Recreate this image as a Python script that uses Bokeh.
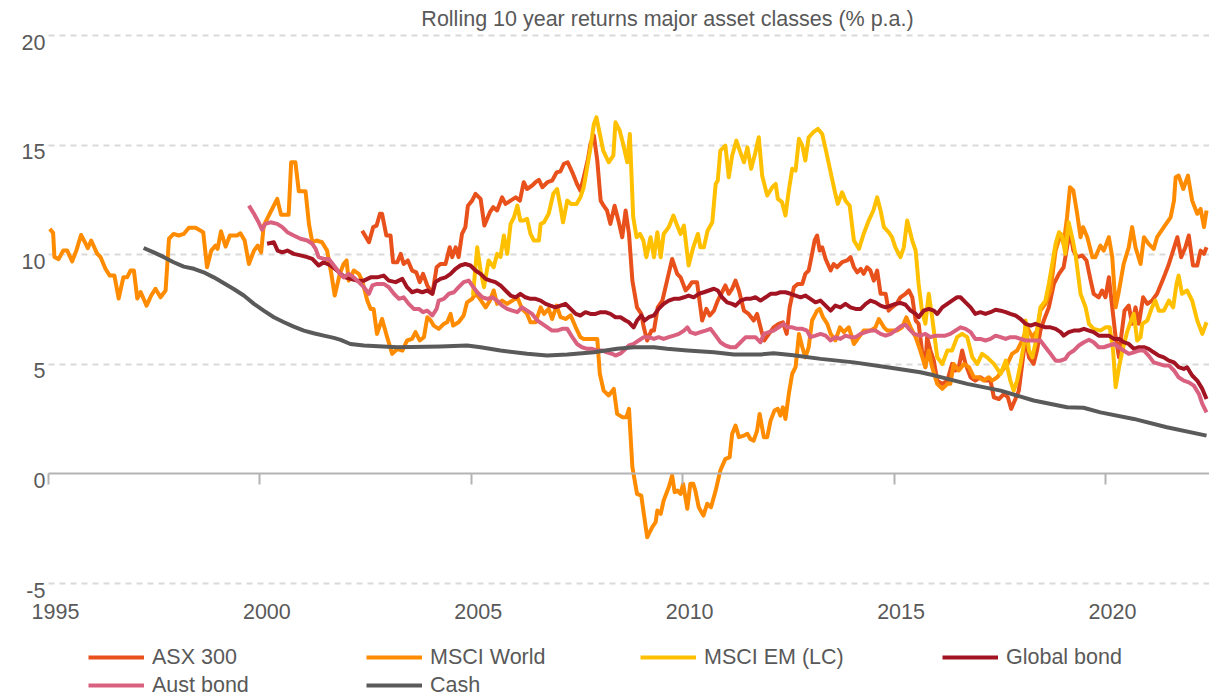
from bokeh.plotting import figure
from bokeh.models import (Range1d, FixedTicker, CustomJSTickFormatter, LinearAxis,
                          Legend, LegendItem, Label)
from bokeh.embed import file_html
from bokeh.resources import INLINE

FONT = "Liberation Sans"
TEXT_COLOR = "#595959"
FONT_SIZE = "21.5px"

title_text = "Rolling 10 year returns major asset classes  (% p.a.)"
x_tick_years = [1995, 2000, 2005, 2010, 2015, 2020]
y_tick_values = [-5, 0, 5, 10, 15, 20]
grid_values = [-5, 5, 10, 15, 20]

series_names = ["ASX 300", "MSCI World", "MSCI EM (LC)", "Global bond", "Aust bond", "Cash"]
series_colors = ["#E8501C", "#FF8C00", "#FFC000", "#A31422", "#D9607F", "#5A5A5A"]

asx_years = [
    2002.42, 2002.58, 2002.68, 2002.76, 2002.84, 2002.89, 2002.99, 2003.09, 2003.15, 2003.25,
    2003.33, 2003.40, 2003.50, 2003.60, 2003.70, 2003.78, 2003.86, 2003.96, 2004.08, 2004.18,
    2004.27, 2004.39, 2004.49, 2004.55, 2004.63, 2004.70, 2004.78, 2004.86, 2004.92, 2005.02,
    2005.10, 2005.22, 2005.31, 2005.44, 2005.52, 2005.61, 2005.73, 2005.81, 2005.93, 2006.05,
    2006.15, 2006.24, 2006.32, 2006.44, 2006.52, 2006.60, 2006.68, 2006.80, 2006.91, 2007.02,
    2007.11, 2007.19, 2007.28, 2007.39, 2007.50, 2007.58, 2007.66, 2007.76, 2007.82, 2007.90,
    2007.98, 2008.06, 2008.13, 2008.21, 2008.29, 2008.39, 2008.49, 2008.57, 2008.65, 2008.73,
    2008.81, 2008.92, 2009.02, 2009.08, 2009.16, 2009.26, 2009.32, 2009.41, 2009.52, 2009.63,
    2009.75, 2009.87, 2009.95, 2010.07, 2010.14, 2010.22, 2010.34, 2010.46, 2010.56, 2010.64,
    2010.74, 2010.83, 2010.93, 2011.01, 2011.09, 2011.17, 2011.25, 2011.33, 2011.45, 2011.56,
    2011.68, 2011.76, 2011.86, 2011.93, 2012.04, 2012.15, 2012.27, 2012.37, 2012.46, 2012.53,
    2012.63, 2012.72, 2012.83, 2012.90, 2012.98, 2013.06, 2013.12, 2013.18, 2013.24, 2013.30,
    2013.38, 2013.50, 2013.57, 2013.65, 2013.77, 2013.89, 2013.97, 2014.05, 2014.13, 2014.21,
    2014.28, 2014.36, 2014.44, 2014.52, 2014.60, 2014.68, 2014.80, 2014.87, 2014.95, 2015.06,
    2015.15, 2015.27, 2015.35, 2015.43, 2015.51, 2015.58, 2015.66, 2015.74, 2015.78, 2015.86,
    2015.94, 2016.02, 2016.14, 2016.26, 2016.37, 2016.45, 2016.53, 2016.61, 2016.69, 2016.81,
    2016.92, 2017.04, 2017.16, 2017.28, 2017.36, 2017.48, 2017.60, 2017.69, 2017.77, 2017.87,
    2017.95, 2018.03, 2018.11, 2018.19, 2018.30, 2018.38, 2018.46, 2018.54, 2018.66, 2018.78,
    2018.90, 2019.01, 2019.09, 2019.16, 2019.24, 2019.33, 2019.45, 2019.55, 2019.65, 2019.72,
    2019.84, 2019.92, 2020.00, 2020.08, 2020.16, 2020.24, 2020.32, 2020.37, 2020.45, 2020.55,
    2020.63, 2020.71, 2020.79, 2020.89, 2020.99, 2021.10, 2021.22, 2021.38, 2021.50, 2021.60,
    2021.70, 2021.79, 2021.89, 2021.97, 2022.07, 2022.17, 2022.25, 2022.33, 2022.39,
]
asx_values = [
    11.10, 10.57, 11.26, 11.33, 11.87, 11.87, 10.88, 10.88, 9.66, 9.66,
    10.04, 9.58, 9.74, 9.28, 9.20, 8.75, 9.13, 8.60, 8.22, 9.43,
    9.58, 9.58, 10.34, 9.89, 10.34, 9.89, 10.95, 11.26, 12.24, 12.47,
    12.78, 12.55, 11.33, 11.94, 12.17, 12.02, 12.62, 12.32, 12.47, 12.62,
    12.47, 13.31, 13.00, 13.16, 13.31, 13.42, 13.08, 13.31, 13.38, 13.76,
    13.81, 14.15, 14.22, 13.76, 13.23, 12.93, 13.54, 14.37, 15.06, 15.44,
    14.30, 12.47, 12.24, 12.02, 11.41, 12.24, 11.48, 10.80, 12.02, 10.95,
    8.82, 7.60, 7.30, 6.69, 6.09, 6.54, 6.54, 7.60, 7.91, 8.82,
    9.81, 9.13, 8.97, 8.37, 8.52, 8.75, 8.75, 7.00, 7.53, 7.23,
    7.45, 7.91, 8.29, 8.60, 8.22, 8.45, 8.82, 8.37, 7.45, 7.30,
    7.00, 7.30, 6.54, 6.09, 6.39, 6.69, 6.85, 6.92, 6.39, 7.60,
    8.52, 8.67, 8.67, 9.13, 9.28, 10.04, 10.65, 10.88, 10.19, 10.34,
    9.81, 9.28, 9.58, 9.43, 9.66, 9.74, 9.89, 9.43, 9.20, 9.36,
    9.13, 9.43, 9.28, 8.82, 9.28, 8.22, 8.22, 7.45, 7.60, 7.76,
    8.06, 8.22, 8.37, 8.06, 7.00, 6.85, 5.63, 4.87, 6.24, 5.63,
    5.17, 4.26, 4.11, 4.26, 5.02, 4.72, 4.87, 5.63, 5.02, 4.41,
    4.26, 4.41, 4.26, 4.26, 3.50, 3.42, 3.65, 3.50, 2.97, 3.42,
    3.80, 5.02, 6.24, 5.32, 5.02, 5.63, 6.54, 7.00, 7.60, 8.67,
    9.13, 9.43, 10.34, 11.10, 10.19, 9.89, 9.97, 9.74, 8.82, 8.22,
    8.06, 8.37, 8.06, 8.97, 7.60, 6.24, 5.32, 6.24, 7.45, 7.68,
    6.85, 7.60, 6.85, 8.06, 7.76, 7.91, 8.22, 8.97, 9.58, 10.19,
    10.80, 9.89, 10.34, 10.88, 9.51, 9.51, 10.19, 10.04, 10.34,
]

world_years = [
    1995.03, 1995.11, 1995.14, 1995.24, 1995.35, 1995.44, 1995.56, 1995.66, 1995.77, 1995.88,
    1995.93, 1996.01, 1996.15, 1996.23, 1996.35, 1996.45, 1996.56, 1996.66, 1996.77, 1996.86,
    1996.94, 1997.02, 1997.10, 1997.18, 1997.32, 1997.43, 1997.53, 1997.65, 1997.77, 1997.85,
    1997.96, 1998.08, 1998.20, 1998.32, 1998.48, 1998.66, 1998.75, 1998.85, 1998.95, 1999.00,
    1999.08, 1999.19, 1999.29, 1999.46, 1999.54, 1999.64, 1999.74, 1999.86, 1999.95, 2000.03,
    2000.09, 2000.25, 2000.41, 2000.50, 2000.68, 2000.74, 2000.84, 2000.92, 2001.08, 2001.16,
    2001.24, 2001.34, 2001.47, 2001.59, 2001.69, 2001.77, 2001.89, 2001.98, 2002.05, 2002.10,
    2002.22, 2002.34, 2002.42, 2002.54, 2002.62, 2002.69, 2002.77, 2002.89, 2003.01, 2003.13,
    2003.25, 2003.37, 2003.48, 2003.60, 2003.68, 2003.78, 2003.88, 2003.96, 2004.04, 2004.11,
    2004.23, 2004.35, 2004.43, 2004.51, 2004.57, 2004.70, 2004.82, 2004.90, 2005.02, 2005.10,
    2005.18, 2005.26, 2005.34, 2005.44, 2005.53, 2005.61, 2005.73, 2005.85, 2005.97, 2006.09,
    2006.20, 2006.32, 2006.40, 2006.52, 2006.64, 2006.72, 2006.83, 2006.91, 2007.02, 2007.11,
    2007.23, 2007.35, 2007.47, 2007.58, 2007.66, 2007.98, 2008.04, 2008.13, 2008.25, 2008.37,
    2008.45, 2008.57, 2008.67, 2008.73, 2008.81, 2008.92, 2009.02, 2009.16, 2009.28, 2009.36,
    2009.40, 2009.48, 2009.55, 2009.67, 2009.75, 2009.81, 2009.88, 2009.95, 2010.01, 2010.11,
    2010.18, 2010.25, 2010.30, 2010.38, 2010.49, 2010.58, 2010.67, 2010.78, 2010.89, 2011.01,
    2011.11, 2011.17, 2011.25, 2011.33, 2011.45, 2011.53, 2011.60, 2011.68, 2011.76, 2011.82,
    2011.92, 2012.00, 2012.08, 2012.17, 2012.25, 2012.31, 2012.37, 2012.43, 2012.51, 2012.59,
    2012.67, 2012.75, 2012.83, 2012.90, 2012.98, 2013.06, 2013.18, 2013.24, 2013.32, 2013.42,
    2013.50, 2013.61, 2013.72, 2013.81, 2013.93, 2014.05, 2014.17, 2014.28, 2014.44, 2014.56,
    2014.64, 2014.76, 2014.84, 2015.07, 2015.19, 2015.29, 2015.39, 2015.51, 2015.62, 2015.74,
    2015.82, 2015.90, 2016.02, 2016.14, 2016.26, 2016.33, 2016.41, 2016.53, 2016.65, 2016.77,
    2016.89, 2017.00, 2017.12, 2017.24, 2017.32, 2017.44, 2017.56, 2017.68, 2017.79, 2017.91,
    2018.03, 2018.15, 2018.27, 2018.38, 2018.46, 2018.58, 2018.70, 2018.82, 2018.94, 2019.01,
    2019.09, 2019.16, 2019.24, 2019.33, 2019.41, 2019.47, 2019.57, 2019.69, 2019.76, 2019.88,
    2019.96, 2020.08, 2020.16, 2020.24, 2020.32, 2020.43, 2020.55, 2020.63, 2020.71, 2020.83,
    2020.91, 2021.02, 2021.14, 2021.22, 2021.38, 2021.54, 2021.62, 2021.66, 2021.73, 2021.84,
    2021.95, 2022.05, 2022.17, 2022.25, 2022.33, 2022.39,
]
world_values = [
    11.18, 11.00, 9.90, 9.80, 10.20, 10.20, 9.70, 10.20, 10.90, 10.50,
    10.30, 10.65, 10.05, 9.90, 9.35, 9.05, 9.05, 8.00, 8.97, 8.97,
    9.28, 9.28, 8.00, 8.30, 7.68, 8.14, 8.45, 8.06, 8.37, 10.73,
    10.95, 10.88, 10.95, 11.23, 11.23, 11.03, 9.43, 10.19, 10.42, 10.27,
    11.07, 10.37, 10.88, 10.88, 10.98, 10.65, 9.58, 10.19, 10.42, 10.11,
    11.33, 11.94, 12.55, 11.83, 11.83, 14.22, 14.22, 12.90, 12.90, 11.41,
    10.57, 10.65, 10.57, 10.19, 9.13, 8.14, 9.13, 9.58, 9.74, 8.82,
    9.28, 9.13, 8.82, 7.91, 7.53, 7.53, 6.39, 7.07, 6.24, 5.48,
    5.71, 5.63, 6.09, 6.16, 6.47, 6.09, 6.24, 7.15, 7.00, 6.77,
    6.62, 6.85, 6.92, 7.30, 6.77, 6.92, 7.23, 7.83, 7.99, 8.22,
    8.06, 7.83, 7.60, 7.91, 8.37, 7.76, 7.91, 7.76, 7.91, 8.06,
    7.53, 7.30, 6.92, 6.92, 7.60, 7.30, 7.53, 7.07, 7.68, 7.15,
    7.07, 7.23, 6.69, 6.24, 6.16, 6.16, 4.57, 3.80, 3.58, 3.88,
    2.74, 2.59, 2.59, 2.97, 0.31, -0.91, -0.99, -2.89, -2.43, -2.20,
    -1.67, -1.82, -1.21, -0.61, -0.07, -0.83, -0.76, -0.91, -0.45, -1.59,
    -0.45, -0.45, -0.76, -1.52, -1.90, -1.36, -1.52, -0.76, 0.16, 0.69,
    0.76, 1.83, 2.21, 1.68, 1.75, 1.83, 1.60, 1.52, 1.98, 2.74,
    1.68, 1.68, 2.44, 2.89, 2.97, 2.66, 3.04, 2.51, 3.65, 4.57,
    4.87, 6.39, 5.78, 5.32, 5.78, 7.00, 7.45, 7.53, 7.15, 6.85,
    6.39, 6.09, 6.69, 6.47, 6.69, 5.93, 6.24, 6.54, 6.54, 6.69,
    7.07, 6.69, 6.54, 6.54, 6.69, 7.15, 6.69, 6.24, 5.63, 4.87,
    5.63, 4.87, 4.11, 3.88, 4.11, 4.11, 5.02, 4.72, 5.02, 4.87,
    4.41, 4.41, 4.26, 4.41, 4.26, 4.41, 4.72, 5.02, 5.48, 5.63,
    6.09, 6.69, 6.24, 6.54, 7.45, 7.76, 8.37, 10.19, 10.95, 10.50,
    11.71, 13.08, 12.93, 11.87, 10.80, 11.26, 10.80, 9.89, 9.89, 10.42,
    10.19, 10.80, 9.89, 7.60, 8.37, 9.58, 10.34, 11.26, 10.34, 9.58,
    10.80, 10.50, 10.27, 10.80, 11.26, 11.71, 12.47, 13.54, 13.61, 13.00,
    13.61, 12.47, 11.87, 12.09, 11.26, 12.02,
]

em_years = [
    2005.04, 2005.14, 2005.22, 2005.30, 2005.41, 2005.53, 2005.61, 2005.69, 2005.77, 2005.85,
    2005.93, 2006.01, 2006.09, 2006.16, 2006.24, 2006.32, 2006.40, 2006.48, 2006.60, 2006.64,
    2006.72, 2006.83, 2006.94, 2007.03, 2007.11, 2007.17, 2007.27, 2007.36, 2007.49, 2007.58,
    2007.66, 2007.74, 2007.82, 2007.90, 2007.96, 2008.04, 2008.12, 2008.25, 2008.36, 2008.41,
    2008.51, 2008.59, 2008.69, 2008.75, 2008.83, 2008.91, 2008.99, 2009.07, 2009.14, 2009.24,
    2009.32, 2009.40, 2009.48, 2009.55, 2009.67, 2009.78, 2009.87, 2009.95, 2010.03, 2010.14,
    2010.25, 2010.36, 2010.42, 2010.50, 2010.59, 2010.70, 2010.78, 2010.83, 2010.89, 2011.01,
    2011.09, 2011.17, 2011.27, 2011.35, 2011.45, 2011.53, 2011.62, 2011.72, 2011.80, 2011.88,
    2012.00, 2012.12, 2012.20, 2012.25, 2012.35, 2012.43, 2012.51, 2012.59, 2012.67, 2012.75,
    2012.83, 2012.90, 2012.98, 2013.09, 2013.20, 2013.30, 2013.38, 2013.50, 2013.61, 2013.67,
    2013.77, 2013.85, 2013.95, 2014.05, 2014.17, 2014.28, 2014.40, 2014.51, 2014.60, 2014.68,
    2014.76, 2014.87, 2014.95, 2015.03, 2015.15, 2015.23, 2015.31, 2015.43, 2015.51, 2015.58,
    2015.66, 2015.74, 2015.82, 2015.90, 2016.02, 2016.14, 2016.26, 2016.37, 2016.49, 2016.61,
    2016.73, 2016.85, 2016.97, 2017.08, 2017.20, 2017.36, 2017.52, 2017.64, 2017.75, 2017.83,
    2017.91, 2017.99, 2018.07, 2018.11, 2018.19, 2018.27, 2018.34, 2018.46, 2018.58, 2018.66,
    2018.74, 2018.82, 2018.90, 2018.98, 2019.05, 2019.13, 2019.21, 2019.29, 2019.41, 2019.53,
    2019.61, 2019.72, 2019.88, 2020.00, 2020.10, 2020.18, 2020.24, 2020.32, 2020.40, 2020.51,
    2020.59, 2020.67, 2020.75, 2020.83, 2020.87, 2020.99, 2021.10, 2021.18, 2021.26, 2021.38,
    2021.50, 2021.60, 2021.68, 2021.73, 2021.81, 2021.93, 2022.05, 2022.17, 2022.29, 2022.39,
]
em_values = [
    8.14, 10.34, 9.28, 8.52, 9.74, 9.43, 10.04, 9.89, 10.88, 10.04,
    11.41, 11.71, 12.24, 11.56, 11.56, 11.64, 10.95, 10.65, 10.65, 11.41,
    11.48, 11.87, 12.78, 13.00, 12.17, 11.48, 12.47, 12.32, 12.32, 12.62,
    13.08, 13.99, 14.90, 15.97, 16.27, 15.51, 14.75, 14.22, 14.52, 16.04,
    15.67, 15.06, 14.22, 15.51, 11.71, 10.80, 10.95, 10.65, 9.89, 10.80,
    9.89, 11.03, 9.89, 10.95, 11.26, 11.79, 11.33, 10.95, 11.33, 9.51,
    10.34, 10.95, 10.34, 10.34, 11.10, 11.48, 13.23, 13.38, 14.75, 14.98,
    13.54, 14.52, 15.21, 14.75, 14.22, 14.90, 13.92, 14.67, 15.36, 13.61,
    12.70, 13.08, 13.23, 12.55, 12.40, 11.79, 12.93, 13.92, 13.84, 15.29,
    14.98, 14.30, 15.36, 15.59, 15.74, 15.51, 14.83, 13.76, 12.78, 12.32,
    12.85, 12.47, 12.24, 10.65, 10.27, 10.95, 11.56, 12.02, 12.62, 12.02,
    11.26, 11.03, 10.80, 10.34, 9.89, 10.34, 11.56, 10.65, 10.19, 8.67,
    7.45, 6.85, 8.22, 7.15, 5.32, 5.02, 5.63, 5.63, 6.24, 6.39,
    6.24, 5.32, 5.02, 5.48, 5.32, 5.02, 4.57, 5.17, 4.26, 3.80,
    4.26, 5.02, 5.93, 7.00, 5.63, 5.32, 5.93, 7.60, 7.91, 8.67,
    9.58, 10.50, 11.03, 10.80, 10.04, 11.48, 10.80, 10.04, 8.22, 7.60,
    6.85, 6.62, 6.54, 6.69, 6.69, 5.63, 3.96, 4.87, 5.63, 6.47,
    6.92, 7.30, 6.09, 6.24, 6.85, 7.00, 7.60, 7.91, 7.45, 7.45,
    7.91, 7.60, 8.67, 9.05, 8.22, 8.37, 7.91, 7.00, 6.39, 6.92,
]

gbond_years = [
    2000.17, 2000.33, 2000.42, 2000.53, 2000.65, 2000.80, 2000.96, 2001.12, 2001.24, 2001.39,
    2001.51, 2001.67, 2001.83, 2001.91, 2002.02, 2002.14, 2002.30, 2002.46, 2002.62, 2002.77,
    2002.93, 2003.05, 2003.21, 2003.37, 2003.48, 2003.60, 2003.72, 2003.84, 2003.96, 2004.08,
    2004.15, 2004.27, 2004.39, 2004.51, 2004.63, 2004.74, 2004.86, 2004.98, 2005.10, 2005.22,
    2005.34, 2005.45, 2005.57, 2005.69, 2005.81, 2005.93, 2006.05, 2006.16, 2006.28, 2006.40,
    2006.52, 2006.64, 2006.76, 2006.87, 2006.99, 2007.11, 2007.23, 2007.35, 2007.47, 2007.58,
    2007.70, 2007.82, 2007.94, 2008.06, 2008.17, 2008.29, 2008.41, 2008.53, 2008.65, 2008.73,
    2008.84, 2008.92, 2009.02, 2009.10, 2009.20, 2009.32, 2009.43, 2009.55, 2009.67, 2009.79,
    2009.91, 2010.03, 2010.14, 2010.26, 2010.38, 2010.50, 2010.62, 2010.74, 2010.83, 2010.93,
    2011.05, 2011.17, 2011.25, 2011.37, 2011.49, 2011.60, 2011.72, 2011.84, 2011.96, 2012.08,
    2012.20, 2012.31, 2012.43, 2012.55, 2012.67, 2012.79, 2012.90, 2013.02, 2013.14, 2013.26,
    2013.38, 2013.50, 2013.61, 2013.73, 2013.85, 2013.97, 2014.09, 2014.21, 2014.33, 2014.44,
    2014.56, 2014.68, 2014.80, 2014.92, 2015.03, 2015.15, 2015.27, 2015.39, 2015.51, 2015.58,
    2015.70, 2015.82, 2015.94, 2016.02, 2016.14, 2016.26, 2016.37, 2016.49, 2016.57, 2016.69,
    2016.81, 2016.92, 2017.04, 2017.16, 2017.28, 2017.40, 2017.52, 2017.64, 2017.75, 2017.87,
    2017.99, 2018.11, 2018.23, 2018.34, 2018.46, 2018.58, 2018.70, 2018.82, 2018.94, 2019.01,
    2019.13, 2019.25, 2019.37, 2019.49, 2019.61, 2019.72, 2019.84, 2019.96, 2020.08, 2020.20,
    2020.32, 2020.43, 2020.55, 2020.67, 2020.79, 2020.91, 2021.02, 2021.14, 2021.26, 2021.38,
    2021.50, 2021.62, 2021.73, 2021.85, 2021.93, 2022.05, 2022.17, 2022.29, 2022.39,
]
gbond_values = [
    10.50, 10.57, 10.19, 10.11, 10.19, 10.04, 9.97, 9.89, 9.81, 9.51,
    9.66, 9.51, 9.28, 9.13, 8.97, 8.90, 8.82, 8.82, 8.97, 8.97,
    9.05, 8.82, 8.75, 8.90, 8.52, 8.29, 8.37, 8.29, 8.37, 8.22,
    8.75, 8.90, 8.97, 9.13, 9.36, 9.51, 9.58, 9.51, 9.28, 9.13,
    8.90, 8.82, 8.75, 8.60, 8.37, 8.14, 8.06, 8.22, 8.06, 7.99,
    7.99, 7.91, 7.76, 7.68, 7.60, 7.68, 7.76, 7.53, 7.30, 7.23,
    7.38, 7.30, 7.30, 7.38, 7.38, 7.30, 7.15, 7.15, 7.00, 6.92,
    6.69, 7.00, 7.23, 7.00, 7.15, 7.23, 7.53, 7.76, 7.91, 7.99,
    7.99, 8.06, 8.14, 8.06, 8.22, 8.29, 8.37, 8.45, 8.37, 8.06,
    7.83, 7.76, 7.68, 7.91, 7.99, 7.99, 8.06, 7.91, 8.06, 8.22,
    8.22, 8.29, 8.29, 8.22, 8.14, 8.06, 8.14, 7.99, 7.83, 7.91,
    7.68, 7.45, 7.68, 7.60, 7.76, 7.60, 7.53, 7.53, 7.76, 7.91,
    7.83, 7.68, 7.60, 7.68, 7.76, 7.80, 7.72, 7.45, 7.30, 7.15,
    7.45, 7.53, 7.45, 7.30, 7.60, 7.76, 7.91, 8.06, 8.06, 7.83,
    7.60, 7.30, 7.38, 7.30, 7.38, 7.49, 7.45, 7.38, 7.30, 7.23,
    7.07, 6.85, 6.77, 6.85, 6.77, 6.69, 6.69, 6.62, 6.47, 6.31,
    6.47, 6.54, 6.54, 6.62, 6.54, 6.47, 6.31, 6.31, 6.31, 6.16,
    6.16, 6.01, 5.93, 5.71, 5.78, 5.78, 5.71, 5.55, 5.40, 5.32,
    5.17, 5.09, 4.87, 4.79, 4.87, 4.49, 4.26, 3.88, 3.42,
]

abond_years = [
    1999.74, 1999.86, 1999.97, 2000.05, 2000.13, 2000.25, 2000.41, 2000.53, 2000.65, 2000.80,
    2000.96, 2001.12, 2001.24, 2001.32, 2001.39, 2001.51, 2001.63, 2001.75, 2001.87, 2001.98,
    2002.10, 2002.22, 2002.34, 2002.46, 2002.58, 2002.66, 2002.77, 2002.93, 2003.05, 2003.17,
    2003.29, 2003.40, 2003.52, 2003.64, 2003.76, 2003.86, 2003.96, 2004.08, 2004.18, 2004.23,
    2004.35, 2004.47, 2004.59, 2004.70, 2004.82, 2004.94, 2005.02, 2005.14, 2005.26, 2005.38,
    2005.49, 2005.61, 2005.73, 2005.85, 2005.97, 2006.09, 2006.20, 2006.32, 2006.44, 2006.56,
    2006.68, 2006.80, 2006.91, 2007.03, 2007.15, 2007.27, 2007.39, 2007.50, 2007.62, 2007.74,
    2007.86, 2007.98, 2008.10, 2008.21, 2008.33, 2008.41, 2008.53, 2008.65, 2008.73, 2008.84,
    2008.96, 2009.08, 2009.20, 2009.32, 2009.43, 2009.55, 2009.67, 2009.79, 2009.91, 2010.03,
    2010.11, 2010.18, 2010.30, 2010.42, 2010.54, 2010.66, 2010.78, 2010.89, 2011.01, 2011.13,
    2011.25, 2011.37, 2011.49, 2011.60, 2011.72, 2011.84, 2011.92, 2012.04, 2012.15, 2012.27,
    2012.39, 2012.47, 2012.59, 2012.71, 2012.83, 2012.94, 2013.02, 2013.14, 2013.26, 2013.38,
    2013.50, 2013.61, 2013.73, 2013.85, 2013.97, 2014.09, 2014.21, 2014.33, 2014.44, 2014.56,
    2014.68, 2014.80, 2014.92, 2015.03, 2015.15, 2015.27, 2015.35, 2015.47, 2015.62, 2015.74,
    2015.86, 2015.98, 2016.09, 2016.21, 2016.33, 2016.45, 2016.57, 2016.69, 2016.81, 2016.92,
    2017.04, 2017.16, 2017.28, 2017.40, 2017.52, 2017.64, 2017.75, 2017.87, 2017.99, 2018.11,
    2018.23, 2018.34, 2018.46, 2018.58, 2018.70, 2018.82, 2018.94, 2019.05, 2019.13, 2019.25,
    2019.37, 2019.49, 2019.61, 2019.72, 2019.84, 2019.96, 2020.08, 2020.20, 2020.32, 2020.43,
    2020.55, 2020.67, 2020.79, 2020.91, 2021.02, 2021.14, 2021.26, 2021.38, 2021.50, 2021.62,
    2021.73, 2021.85, 2021.97, 2022.09, 2022.21, 2022.29, 2022.39,
]
abond_values = [
    12.24, 11.87, 11.48, 11.14, 11.41, 11.48, 11.41, 11.26, 11.03, 10.88,
    10.73, 10.65, 10.50, 10.27, 9.89, 9.81, 9.81, 9.51, 9.20, 8.97,
    9.13, 8.97, 8.75, 8.52, 8.22, 8.60, 8.67, 8.67, 8.52, 8.22,
    7.99, 8.06, 7.76, 7.53, 7.53, 7.38, 7.45, 7.23, 7.53, 7.91,
    7.99, 8.22, 8.29, 8.52, 8.75, 8.82, 8.60, 8.29, 8.06, 7.99,
    8.06, 7.91, 7.68, 7.53, 7.45, 7.38, 7.60, 7.45, 7.30, 7.00,
    6.85, 6.69, 6.54, 6.54, 6.62, 6.62, 6.24, 5.93, 5.78, 5.71,
    5.71, 5.63, 5.63, 5.55, 5.48, 5.40, 5.50, 5.71, 5.86, 5.93,
    6.09, 6.24, 6.24, 6.16, 6.24, 6.16, 6.24, 6.31, 6.39, 6.54,
    6.69, 6.47, 6.39, 6.47, 6.54, 6.62, 6.31, 6.01, 5.86, 5.78,
    5.78, 6.01, 6.24, 6.24, 6.24, 6.01, 6.39, 6.47, 6.54, 6.69,
    6.85, 6.69, 6.69, 6.62, 6.62, 6.54, 6.24, 6.31, 6.39, 6.31,
    6.09, 6.24, 6.16, 6.31, 6.24, 6.24, 6.39, 6.47, 6.54, 6.54,
    6.39, 6.31, 6.39, 6.54, 6.73, 6.81, 6.62, 6.39, 6.31, 6.39,
    6.24, 6.31, 6.31, 6.31, 6.39, 6.54, 6.69, 6.62, 6.47, 6.16,
    6.16, 6.09, 6.16, 6.31, 6.24, 6.16, 6.24, 6.24, 6.16, 6.09,
    6.09, 6.09, 6.09, 5.78, 5.48, 5.17, 5.17, 5.25, 5.48, 5.63,
    5.86, 6.01, 6.12, 6.01, 5.78, 5.78, 5.86, 5.93, 5.78, 5.63,
    5.48, 5.55, 5.63, 5.63, 5.40, 5.09, 5.02, 4.95, 4.95, 4.72,
    4.41, 4.26, 4.18, 4.03, 3.65, 3.20, 2.81,
]

cash_years = [
    1997.25, 1997.49, 1997.73, 1997.96, 1998.20, 1998.44, 1998.67, 1998.91, 1999.15, 1999.38,
    1999.62, 1999.86, 2000.09, 2000.33, 2000.57, 2000.80, 2001.04, 2001.27, 2001.51, 2001.75,
    2001.91, 2002.14, 2002.46, 2003.25, 2004.27, 2004.90, 2005.22, 2005.69, 2006.32, 2006.79,
    2007.27, 2007.90, 2008.45, 2008.84, 2009.32, 2009.63, 2010.11, 2010.74, 2011.21, 2011.84,
    2012.15, 2012.62, 2013.26, 2014.05, 2014.84, 2015.62, 2015.94, 2016.73, 2017.52, 2018.30,
    2019.09, 2019.48, 2019.88, 2020.67, 2021.45, 2022.39,
]
cash_values = [
    10.31, 10.11, 9.89, 9.66, 9.46, 9.36, 9.20, 8.97, 8.70, 8.44,
    8.14, 7.76, 7.45, 7.15, 6.92, 6.72, 6.54, 6.42, 6.31, 6.21,
    6.12, 5.93, 5.86, 5.78, 5.82, 5.86, 5.78, 5.63, 5.48, 5.40,
    5.45, 5.55, 5.71, 5.78, 5.78, 5.71, 5.63, 5.55, 5.45, 5.45,
    5.51, 5.42, 5.25, 5.09, 4.87, 4.64, 4.50, 4.11, 3.80, 3.35,
    3.04, 3.02, 2.81, 2.51, 2.13, 1.75,
]

series_years = [asx_years, world_years, em_years, gbond_years, abond_years, cash_years]
series_values = [asx_values, world_values, em_values, gbond_values, abond_values, cash_values]

# ---- layout constants ----
W, H = 1209, 699
Y_TOP, Y_BOTTOM = 21.6, -10.29      # plotting area covers the whole canvas height
X_START, X_END = 1993.865, 2022.46  # plotting area covers the whole canvas width
AXIS_X = 1995                       # where the value labels hang from
LABEL_AXIS_AT = -5.41               # where the year labels hang from

p = figure(width=W, height=H, output_backend="svg", toolbar_location=None,
           x_range=Range1d(X_START, X_END), y_range=Range1d(Y_BOTTOM, Y_TOP),
           min_border_left=0, min_border_right=0, min_border_top=0, min_border_bottom=0,
           background_fill_color="white", border_fill_color="white")
p.outline_line_color = None
p.xgrid.visible = False
p.ygrid.ticker = FixedTicker(ticks=grid_values)
p.ygrid.cross_bounds = (AXIS_X, X_END)
p.ygrid.grid_line_color = "#d9d9d9"
p.ygrid.grid_line_width = 2
p.ygrid.grid_line_dash = "6 5"

label_fmt = CustomJSTickFormatter(code="return String(Math.round(tick));")

# year labels, hung below the plotting region; labels sit a little right of the ticks
xax = p.xaxis[0]
xax.fixed_location = LABEL_AXIS_AT
xax.ticker = FixedTicker(ticks=[t + 0.165 for t in x_tick_years])
xax.formatter = label_fmt
xax.axis_line_color = None
xax.major_tick_line_color = None
xax.minor_tick_line_color = None
xax.major_tick_out = 0
xax.major_tick_in = 0
xax.major_label_standoff = 11
xax.major_label_text_font = FONT
xax.major_label_text_font_size = FONT_SIZE
xax.major_label_text_color = TEXT_COLOR

# value labels, slightly below the grid lines
yax = p.yaxis[0]
yax.fixed_location = AXIS_X
yax.ticker = FixedTicker(ticks=[v - 0.3 for v in y_tick_values])
yax.formatter = label_fmt
yax.axis_line_color = None
yax.major_tick_line_color = None
yax.minor_tick_line_color = None
yax.major_tick_out = 0
yax.major_tick_in = 0
yax.major_label_standoff = 3
yax.major_label_text_font = FONT
yax.major_label_text_font_size = FONT_SIZE
yax.major_label_text_color = TEXT_COLOR

# zero line with tick marks
zero_axis = LinearAxis(fixed_location=0, bounds=(AXIS_X, X_END),
                       ticker=FixedTicker(ticks=x_tick_years),
                       formatter=CustomJSTickFormatter(code="return '';"),
                       axis_line_color="#b3b3b3", axis_line_width=2,
                       major_tick_line_color="#b3b3b3", major_tick_line_width=2,
                       major_tick_out=11, major_tick_in=0,
                       minor_tick_line_color=None, major_label_text_font_size="0px")
p.add_layout(zero_axis, "below")

renderers = []
for yrs, vals, col in zip(series_years, series_values, series_colors):
    r = p.line(yrs, vals, line_color=col, line_width=4, line_join="round")
    renderers.append(r)

# title (screen units relative to the plotting area)
p.add_layout(Label(x=670, y=H - 18, x_units="screen", y_units="screen", text=title_text,
                   text_font=FONT, text_font_size=FONT_SIZE, text_color=TEXT_COLOR,
                   text_align="center", text_baseline="alphabetic"))

# legend: four columns, two rows
columns = [[0, 4], [1, 5], [2], [3]]
col_x = [88, 366, 640, 942]
ROW_H = 28
for idxs, cx in zip(columns, col_x):
    items = [LegendItem(label=series_names[i], renderers=[renderers[i]]) for i in idxs]
    bottom = 0 if len(idxs) == 2 else ROW_H
    leg = Legend(items=items, location=(cx, bottom),
                 orientation="vertical", padding=0, margin=0, spacing=0,
                 glyph_width=56, glyph_height=ROW_H, label_height=ROW_H, label_standoff=8,
                 label_text_font=FONT, label_text_font_size=FONT_SIZE,
                 label_text_color=TEXT_COLOR, border_line_color=None,
                 background_fill_alpha=0)
    p.add_layout(leg, "center")

open("out.html", "w").write(file_html(p, INLINE))
